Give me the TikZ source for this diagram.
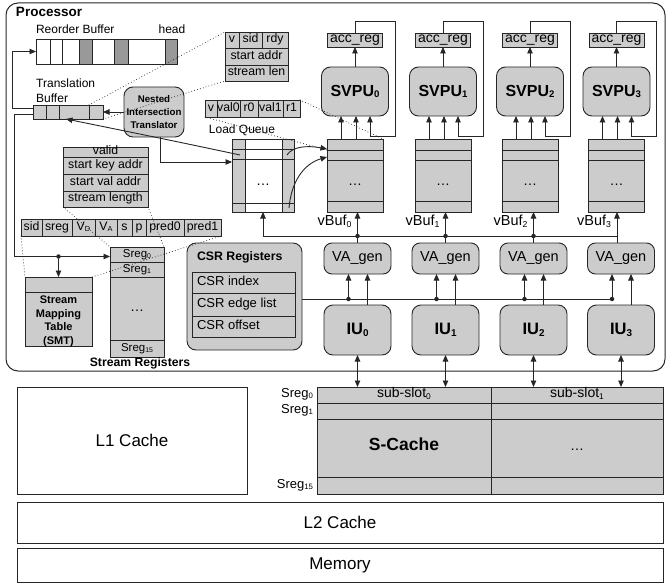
\documentclass[tikz,border=0pt]{standalone}
\usepackage{fontspec}
\usepackage{graphicx}
\setmainfont{Liberation Sans}
\usetikzlibrary{arrows.meta,calc}
\definecolor{gf}{HTML}{CCCCCC}
\definecolor{gd}{HTML}{999999}
\definecolor{lc}{HTML}{262626}
\newcommand\fs[1]{\fontsize{#1}{\dimexpr#1pt*6/5\relax}\selectfont}
\newcommand\sbs[1]{\raisebox{-0.1em}{\scalebox{0.6}{#1}}}
\newcommand\cbox[7][]{\node[cell,minimum width={(#5-#3)*1pt},minimum height={(#6-#4)*1pt},#1] (#2) at (#3,#4) {#7};}
\tikzset{
  cell/.style={draw=lc,fill=gf,line width=0.8pt,anchor=north west,inner sep=0pt,outer sep=0pt,text height=.72em,text depth=.2em,font=\fs{12.3}},
  rb/.style={draw=lc,fill=gf,line width=0.9pt,rounded corners=9pt,inner sep=0pt,outer sep=0pt},
  plain/.style={draw=lc,line width=0.9pt,anchor=north west,inner sep=0pt,outer sep=0pt},
  ln/.style={draw=lc,line width=0.9pt},
  ar/.style={draw=lc,line width=0.9pt,-{Triangle[length=6.5pt,width=5.5pt]}},
  dar/.style={draw=lc,line width=0.9pt,{Triangle[length=6.5pt,width=5.5pt]}-{Triangle[length=6.5pt,width=5.5pt]}},
  dt/.style={draw=lc,line width=1pt,line cap=round,dash pattern=on 0pt off 3pt},
  jdot/.style={circle,fill=lc,inner sep=0pt,minimum size=4.5pt},
  lbl/.style={inner sep=0pt,outer sep=0pt,text height=.72em,text depth=.2em},
  dots/.style={inner sep=0pt,outer sep=0pt,font=\fs{14}},
}
\begin{document}
\begin{tikzpicture}[x=1pt,y=-1pt]
\useasboundingbox (0,0) rectangle (668,585);

% processor frame
\node[plain,line width=1pt,rounded corners=12pt,minimum width=659pt,minimum height=368pt] (proc) at (6,3) {};
\node[lbl,anchor=west,font=\bfseries\fs{13.5}] (proct) at (16,14) {Processor};

% reorder buffer
\node[lbl,anchor=west,font=\fs{12}] (robt) at (36,31) {Reorder Buffer};
\node[lbl,font=\fs{12}] (headt) at (172,31) {head};
\cbox[fill=white]{rob1}{36}{39}{50}{64}{}
\cbox[fill=white]{rob2}{50}{39}{62}{64}{}
\cbox[fill=white]{rob3}{62}{39}{79}{64}{}
\cbox[fill=gd]{rob4}{79}{39}{92}{64}{}
\cbox[fill=white]{rob5}{92}{39}{114}{64}{}
\cbox[fill=gd]{rob6}{114}{39}{128}{64}{}
\cbox[fill=white]{rob7}{128}{39}{165}{64}{}
\cbox[fill=gd]{rob8}{165}{39}{177}{64}{}

% translation buffer
\node[inner sep=0pt,anchor=west,align=left,font=\fontsize{12}{15}\selectfont] (tbt) at (36,90.5) {Translation\\Buffer};
\cbox{tb1}{33}{105}{46}{119}{}
\cbox{tb2}{46}{105}{59}{119}{}
\cbox{tb3}{59}{105}{89}{119}{}
\cbox{tb4}{89}{105}{103}{119}{}

% nested intersection translator
\node[rb,minimum width=60pt,minimum height=50pt,align=center,font=\bfseries\fontsize{9.7}{13}\selectfont] (nit) at (154,112) {Nested\\Intersection\\Translator};

% translation entry table
\cbox{sv1}{225}{32}{239}{48}{v}
\cbox{sv2}{239}{32}{262}{48}{sid}
\cbox{sv3}{262}{32}{288}{48}{rdy}
\cbox{sv4}{225}{48}{288}{65}{start addr}
\cbox{sv5}{225}{65}{288}{81}{stream len}

% vBuf entry table
\cbox{vv1}{205}{100}{217}{117}{v}
\cbox{vv2}{217}{100}{240}{117}{val0}
\cbox{vv3}{240}{100}{258}{117}{r0}
\cbox{vv4}{258}{100}{283}{117}{val1}
\cbox{vv5}{283}{100}{300}{117}{r1}

% load queue
\node[lbl,font=\fs{12}] (lqt) at (242,131) {Load Queue};
\cbox[fill=white]{lq}{232}{139}{294}{212}{}
\cbox{lqL}{232}{139}{245}{212}{}
\cbox{lqR}{282}{139}{294}{212}{}
\draw[ln] (232,149) -- (294,149);
\draw[ln] (232,159) -- (294,159);
\draw[ln] (232,203) -- (294,203);
\node[dots] (lqd) at (263,185) {\ldots};

% columns
\foreach \i/\c/\b in {0/355/357.5,1/443/445.5,2/530/533.5,3/616.5/621} {
  \node[rb,minimum width=67pt,minimum height=49pt,font=\bfseries\fs{16}] (svpu\i) at (\c,91.5) {SVPU\sbs{\i}};
  \node[cell,anchor=center,minimum width=55pt,minimum height=14pt,font=\fs{14}] (acc\i) at (\c,40) {acc\_reg};
  \node[cell,anchor=center,minimum width=56pt,minimum height=73pt] (vb\i) at (\c,175.5) {};
  \draw[ln] ({\c-28},150) -- ({\c+28},150);
  \draw[ln] ({\c-28},160) -- ({\c+28},160);
  \draw[ln] ({\c-28},201) -- ({\c+28},201);
  \node[dots] (vbd\i) at (\c,185) {\ldots};
  \draw[ar] (svpu\i.north) -- (acc\i.south);
  \coordinate (lp\i) at ({\c+15},136);
  \draw[ar] (acc\i.north) |- ({\c+40},21) |- (lp\i) -- (lp\i |- svpu\i.south);
  \draw[ar] ([xshift=-14pt]vb\i.north) -- ([xshift=-14pt]vb\i.north |- svpu\i.south);
  \draw[ar] ([xshift=1pt]vb\i.north) -- ([xshift=1pt]vb\i.north |- svpu\i.south);
  \node[rb,rounded corners=8pt,minimum width=67pt,minimum height=31pt,font=\fs{14.5}] (vag\i) at (\b,258.5) {VA\_gen};
  \node[rb,minimum width=67pt,minimum height=50pt,font=\bfseries\fs{16.5}] (iu\i) at (\b,330) {IU\sbs{\i}};
  \node[jdot] (cd\i) at ({\b-9},299) {};
  \draw[ar] (cd\i) -- (cd\i |- vag\i.south);
  \draw[ar] ([xshift=10pt]iu\i.north) -- ([xshift=10pt]vag\i.south);
}

% vBuf labels and VA_gen -> vBuf bus
\coordinate (bus0) at (263,236);
\coordinate (bus3) at (617,236);
\draw[ln] (bus0) -- (bus3);
\draw[ar] (bus0) -- (lq.south);
\foreach \i in {0,1,2} {
  \node[jdot] (bd\i) at (vag\i.north |- bus0) {};
  \draw[ar] (vag\i.north) -- (vag\i.north |- vb\i.south);
  \node[lbl,anchor=east,font=\fs{14.5}] (vbl\i) at ([xshift=-6pt]bd\i.center |- 0,223) {vBuf\sbs{\i}};
}
\draw[ar] ([xshift=-4pt]vag3.north) -- ([xshift=-4pt]vag3.north |- vb3.south);
\node[lbl,anchor=east,font=\fs{14.5}] (vbl3) at (611,223) {vBuf\sbs{3}};

% CSR registers
\node[rb,anchor=north west,minimum width=115pt,minimum height=107pt] (csr) at (187,243) {};
\node[lbl,anchor=west,font=\bfseries\fs{12.3}] (csrt) at (197,258) {CSR Registers};
\cbox{csr1}{192}{272}{295}{293}{}
\cbox{csr2}{192}{293}{295}{316}{}
\cbox{csr3}{192}{316}{295}{337}{}
\node[lbl,anchor=west,font=\fs{13}] (csr1t) at (197,282.5) {CSR index};
\node[lbl,anchor=west,font=\fs{13}] (csr2t) at (197,304.5) {CSR edge list};
\node[lbl,anchor=west,font=\fs{13}] (csr3t) at (197,326.5) {CSR offset};
\coordinate (cbs) at ([yshift=-2.5pt]csr.east);
\draw[ln] (cbs) -- (cbs -| cd3);

% stream registers area
\cbox{vl1}{63}{147}{148}{157}{valid}
\cbox{vl2}{63}{157}{148}{174}{start key addr}
\cbox{vl3}{63}{174}{148}{191}{start val addr}
\cbox{vl4}{63}{191}{148}{207}{stream length}

\cbox{sd1}{21}{219}{42}{236}{sid}
\cbox{sd2}{42}{219}{72}{236}{sreg}
\cbox{sd3}{72}{219}{95}{236}{V\sbs{D}}
\cbox{sd4}{95}{219}{117}{236}{V\sbs{A}}
\cbox{sd5}{117}{219}{132}{236}{s}
\cbox{sd6}{132}{219}{146}{236}{p}
\cbox{sd7}{146}{219}{184}{236}{pred0}
\cbox{sd8}{184}{219}{221}{236}{pred1}

\cbox{smt1}{25}{277}{92}{292}{}
\cbox{smt2}{25}{292}{92}{346}{}
\node[inner sep=0pt,align=center,font=\bfseries\fontsize{11}{13.5}\selectfont] (smtt) at (58.5,321.5) {Stream\\Mapping\\Table\\(SMT)};

\cbox[font=\fs{11.5}]{sr0}{110}{247}{164}{262}{Sreg\sbs{0}}
\cbox[font=\fs{11.5}]{sr1}{110}{262}{164}{277}{Sreg\sbs{1}}
\cbox{sr2}{110}{277}{164}{340}{}
\cbox[font=\fs{11.5}]{sr15}{110}{340}{164}{357}{Sreg\sbs{15}}
\node[dots] (srd) at (137,311) {\ldots};
\node[lbl,font=\bfseries\fs{12.2}] (srt) at (140,363.5) {Stream Registers};

% S-Cache
\cbox{sc}{317}{387}{663}{494}{}
\draw[ln] (317,403) -- (663,403);
\draw[ln] (317,419) -- (663,419);
\draw[ln] (317,477) -- (663,477);
\draw[ln] (491,387) -- (491,494);
\node[lbl,font=\fs{14}] (ss0) at (404,395) {sub-slot\sbs{0}};
\node[lbl,font=\fs{14}] (ss1) at (577,395) {sub-slot\sbs{1}};
\node[lbl,font=\bfseries\fs{17.5}] (sct) at (404,448) {S-Cache};
\node[dots] (scd) at (577,450) {\ldots};
\node[lbl,anchor=east,font=\fs{13}] (sl0) at (313,395) {Sreg\sbs{0}};
\node[lbl,anchor=east,font=\fs{13}] (sl1) at (313,411) {Sreg\sbs{1}};
\node[lbl,anchor=east,font=\fs{13}] (sl15) at (313,486) {Sreg\sbs{15}};
\foreach \i in {0,1,2,3} {\draw[dar] (iu\i.south) -- (iu\i.south |- sc.north);}

% caches and memory
\node[plain,minimum width=230pt,minimum height=107pt,font=\fs{17}] (l1) at (17,387) {L1 Cache};
\node[plain,minimum width=646pt,minimum height=41pt,font=\fs{17}] (l2) at (17,502) {L2 Cache};
\node[plain,minimum width=646pt,minimum height=34pt,font=\fs{17}] (mem) at (17,548) {Memory};

% left connectors
\draw[ar] ([yshift=4pt]tb1.west) -| ($(rob1.west)+(-24,0)$) -- (rob1.west);
\coordinate (jn) at ($(smt1.north)+(0,-20.5)$);
\draw[ar] ([yshift=-2pt]tb1.west) -| ($(sr0.west)+(-96,2)$) -- ($(sr0.west)+(0,2)$);
\node[jdot] (jnd) at (jn) {};
\draw[ar] (jnd) -- (smt1.north);

\draw[ar] (nit.west) -- (tb4.east);
\draw[ar] ([xshift=6pt]nit.south) |- ($(lq.north west)+(0,23)$);
\draw[ar] ($(lq.north west)+(8,16)$) .. controls (170,140) and (110,128) .. ([xshift=-8pt]tb3.south);
\draw[ar] ($(lq.north east)+(-7,16)$) .. controls (292,147) and (306,145) .. ($(vb0.north west)+(0,10)$);
\draw[ar] ($(lq.south east)+(-5,-4)$) .. controls (291,183) and (303,164) .. ($(vb0.north west)+(0,18)$);

% dotted zoom lines
\draw[dt] (tb4.north west) -- (sv1.north west);
\draw[dt] (tb4.south east) -- (sv5.south west);
\draw[dt] (vv1.south west) -- ($(vb0.north west)+(0,11)$);
\draw[dt] (vv5.north east) -- (vb0.north east);
\draw[dt] (vl4.south west) -- (sr0.north west);
\draw[dt] (vl4.south east) -- (sr0.north east);
\draw[dt] (sd1.south west) -- (smt1.north west);
\draw[dt] (sd8.south east) -- (smt1.north east);
\end{tikzpicture}
\end{document}
